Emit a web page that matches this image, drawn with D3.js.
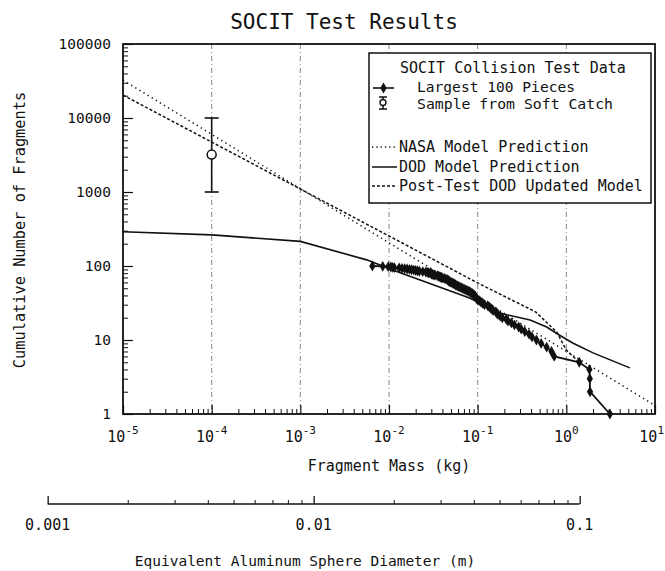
<!DOCTYPE html>
<html>
<head>
<meta charset="utf-8">
<script src="https://cdn.jsdelivr.net/npm/d3@7/dist/d3.min.js"></script>
<style>
  html, body { margin: 0; padding: 0; background: #fff; }
  svg { display: block; }
  text { font-family: "DejaVu Sans Mono", monospace; fill: #111; }
</style>
</head>
<body>
<svg id="chart" width="665" height="571"></svg>
<script>
// ---------- data ----------
const massDecades = [1e-5, 1e-4, 1e-3, 1e-2, 1e-1, 1, 10];
const massExponents = ["-5", "-4", "-3", "-2", "-1", "0", "1"];
const countTicks = [1, 10, 100, 1000, 10000, 100000];
const countLabels = ["1", "10", "100", "1000", "10000", "100000"];
const diamTicks = [0.001, 0.01, 0.1];
const diamLabels = ["0.001", "0.01", "0.1"];

// Largest 100 pieces: mass (kg) of the piece with cumulative rank N
const pieceMass = [
  3.1, 1.85, 1.84, 1.82, 1.4, 0.73, 0.68, 0.60, 0.52, 0.46,
  0.41, 0.38, 0.34, 0.31, 0.29, 0.26, 0.24, 0.22, 0.21, 0.19,
  0.18, 0.17, 0.165, 0.16, 0.15, 0.145, 0.14, 0.135, 0.13, 0.12,
  0.115, 0.112, 0.108, 0.104, 0.10, 0.098, 0.097, 0.095, 0.094, 0.092,
  0.09, 0.088, 0.086, 0.083, 0.081, 0.078, 0.075, 0.072, 0.07, 0.067,
  0.065, 0.063, 0.061, 0.059, 0.057, 0.056, 0.055, 0.053, 0.052, 0.050,
  0.049, 0.048, 0.047, 0.0465, 0.046, 0.045, 0.043, 0.042, 0.040, 0.039,
  0.038, 0.037, 0.036, 0.035, 0.033, 0.032, 0.031, 0.0303, 0.030, 0.029,
  0.028, 0.027, 0.026, 0.024, 0.022, 0.021, 0.020, 0.019, 0.018, 0.017,
  0.016, 0.015, 0.014, 0.013, 0.0115, 0.011, 0.0105, 0.0098, 0.0085, 0.0065
];
const pieceCount = [
  1,2,3,4,5,6,7,8,9,10,11,12,13,14,15,16,17,18,19,20,
  21,22,23,24,25,26,27,28,29,30,31,32,33,34,35,36,37,38,39,40,
  41,42,43,44,45,46,47,48,49,50,51,52,53,54,55,56,57,58,59,60,
  61,62,63,64,65,66,67,68,69,70,71,72,73,74,75,76,77,78,79,80,
  81,82,83,84,85,86,87,88,89,90,91,92,93,94,95,96,97,98,99,100
];

// Sample from soft catch
const softMass = [1e-4];
const softCount = [3200];
const softLow = [1000];
const softHigh = [10000];

// NASA model prediction
const nasaMass = [1e-5, 10];
const nasaCount = [32500, 1.3];

// DOD model prediction
const dodMass = [1e-5, 1e-4, 1e-3, 5.6e-3, 0.011, 0.081, 0.1, 0.18, 0.39, 0.6, 0.83, 1.18, 2.0, 5.2];
const dodCount = [290, 263, 215, 121, 88, 37, 32.6, 23, 18.6, 15, 11.7, 9.1, 6.7, 4.2];

// Post-test DOD updated model
const postMass = [1e-5, 0.1, 0.45, 0.78, 1.0, 1.4];
const postCount = [20400, 59, 24, 12.8, 7.3, 5.0];

// ---------- layout ----------
const svg = d3.select("#chart");
const L = 123, R = 655, T = 44, B = 414;
const x = d3.scaleLog().domain([1e-5, 10]).range([L, R]);
const y = d3.scaleLog().domain([1, 1e5]).range([B, T]);

// aluminium sphere: m = rho*pi/6*d^3
const rhoAl = 2700;
const massOfDiam = d => rhoAl * Math.PI / 6 * d * d * d;
const xd = d3.scaleLog().domain([0.001, 0.1]).range([x(massOfDiam(0.001)), x(massOfDiam(0.1))]);

// title
svg.append("text").attr("x", 344).attr("y", 29).attr("text-anchor", "middle")
  .attr("font-size", 21).text("SOCIT Test Results");

// gridlines (vertical, dashed)
const g = svg.append("g");
g.selectAll("line.grid").data(massDecades.slice(1, -1)).enter().append("line")
  .attr("x1", d => x(d)).attr("x2", d => x(d)).attr("y1", T).attr("y2", B)
  .attr("stroke", "#666").attr("stroke-width", 0.8).attr("stroke-dasharray", "5,3,1,3");

// minor ticks bottom axis
const minorMass = [];
massDecades.slice(0, -1).forEach(d => { for (let k = 2; k <= 9; k++) minorMass.push(d * k); });
svg.append("g").attr("transform", `translate(0,${B})`)
  .call(d3.axisBottom(x).tickValues(minorMass).tickSize(-5).tickFormat(""))
  .call(s => s.select(".domain").remove())
  .call(s => s.selectAll("line").attr("stroke", "#111").attr("stroke-width", 1));
svg.append("g").attr("transform", `translate(0,${B})`)
  .call(d3.axisBottom(x).tickValues(massDecades).tickSize(-9).tickFormat(""))
  .call(s => s.select(".domain").remove())
  .call(s => s.selectAll("line").attr("stroke", "#111").attr("stroke-width", 1.2));

// minor ticks left axis
const minorCount = [];
countTicks.slice(0, -1).forEach(d => { for (let k = 2; k <= 9; k++) minorCount.push(d * k); });
svg.append("g").attr("transform", `translate(${L},0)`)
  .call(d3.axisLeft(y).tickValues(minorCount).tickSize(-5).tickFormat(""))
  .call(s => s.select(".domain").remove())
  .call(s => s.selectAll("line").attr("stroke", "#111").attr("stroke-width", 1));
svg.append("g").attr("transform", `translate(${L},0)`)
  .call(d3.axisLeft(y).tickValues(countTicks).tickSize(-10).tickFormat(""))
  .call(s => s.select(".domain").remove())
  .call(s => s.selectAll("line").attr("stroke", "#111").attr("stroke-width", 1.2));

// y tick labels
svg.selectAll("text.ylab").data(countTicks).enter().append("text")
  .attr("x", 111).attr("y", d => y(d) + 5).attr("text-anchor", "end")
  .attr("font-size", 14.5).text((d, i) => countLabels[i]);

// x tick labels (10^n)
massDecades.forEach((d, i) => {
  const last = i === massDecades.length - 1;
  const t = svg.append("text").attr("x", last ? 664 : x(d)).attr("y", 442)
    .attr("text-anchor", last ? "end" : "middle").attr("font-size", 15);
  t.append("tspan").text("10");
  t.append("tspan").attr("dy", -8).attr("font-size", 11).text(massExponents[i]);
});

// axis titles
svg.append("text").attr("x", 389).attr("y", 471).attr("text-anchor", "middle")
  .attr("font-size", 15).text("Fragment Mass (kg)");
svg.append("text").attr("transform", "translate(25,230) rotate(-90)")
  .attr("text-anchor", "middle").attr("font-size", 15.3).text("Cumulative Number of Fragments");

// ---------- model lines ----------
const line = d3.line().x(d => x(d[0])).y(d => y(d[1]));
const zip = (a, b) => a.map((v, i) => [v, b[i]]);

svg.append("path").datum(zip(nasaMass, nasaCount)).attr("d", line)
  .attr("fill", "none").attr("stroke", "#111").attr("stroke-width", 1.5)
  .attr("stroke-dasharray", "1.3,3.5");
svg.append("path").datum(zip(postMass, postCount)).attr("d", line)
  .attr("fill", "none").attr("stroke", "#111").attr("stroke-width", 1.5)
  .attr("stroke-dasharray", "3,2");
svg.append("path").datum(zip(dodMass, dodCount)).attr("d", line)
  .attr("fill", "none").attr("stroke", "#111").attr("stroke-width", 1.6);

// ---------- test data ----------
const pieces = zip(pieceMass, pieceCount);
svg.append("path").datum(pieces).attr("d", line)
  .attr("fill", "none").attr("stroke", "#111").attr("stroke-width", 1.8);
const diamond = d3.symbol().type(d3.symbolDiamond).size(34);
svg.selectAll("path.pt").data(pieces).enter().append("path")
  .attr("d", diamond).attr("transform", d => `translate(${x(d[0])},${y(d[1])})`)
  .attr("fill", "#111");

// soft catch sample with error bar
softMass.forEach((m, i) => {
  const cx = x(m);
  svg.append("line").attr("x1", cx).attr("x2", cx).attr("y1", y(softHigh[i])).attr("y2", y(softLow[i]))
    .attr("stroke", "#111").attr("stroke-width", 1.6);
  [softHigh[i], softLow[i]].forEach(v => svg.append("line")
    .attr("x1", cx - 7).attr("x2", cx + 7).attr("y1", y(v)).attr("y2", y(v))
    .attr("stroke", "#111").attr("stroke-width", 1.6));
  svg.append("circle").attr("cx", cx).attr("cy", y(softCount[i])).attr("r", 4.5)
    .attr("fill", "#fff").attr("stroke", "#111").attr("stroke-width", 1.5);
});

// ---------- legend ----------
const lg = svg.append("g");
lg.append("rect").attr("x", 369).attr("y", 53).attr("width", 282).attr("height", 150)
  .attr("fill", "#fff").attr("stroke", "#111").attr("stroke-width", 1.5);
lg.append("text").attr("x", 400).attr("y", 73).attr("font-size", 15).text("SOCIT Collision Test Data");
lg.append("line").attr("x1", 373).attr("x2", 394).attr("y1", 88).attr("y2", 88)
  .attr("stroke", "#111").attr("stroke-width", 1.6);
lg.append("path").attr("d", diamond).attr("transform", "translate(383.5,88)").attr("fill", "#111");
lg.append("text").attr("x", 417).attr("y", 92).attr("font-size", 14)
  .attr("textLength", 158).attr("lengthAdjust", "spacingAndGlyphs").text("Largest 100 Pieces");
lg.append("line").attr("x1", 383).attr("x2", 383).attr("y1", 97).attr("y2", 109).attr("stroke", "#111").attr("stroke-width", 1.5);
lg.append("line").attr("x1", 379).attr("x2", 387).attr("y1", 97).attr("y2", 97).attr("stroke", "#111").attr("stroke-width", 1.5);
lg.append("line").attr("x1", 379).attr("x2", 387).attr("y1", 109).attr("y2", 109).attr("stroke", "#111").attr("stroke-width", 1.5);
lg.append("circle").attr("cx", 383).attr("cy", 102.5).attr("r", 3).attr("fill", "#fff").attr("stroke", "#111").attr("stroke-width", 1.4);
lg.append("text").attr("x", 417).attr("y", 109).attr("font-size", 14)
  .attr("textLength", 196).attr("lengthAdjust", "spacingAndGlyphs").text("Sample from Soft Catch");

const legendLines = [
  { label: "NASA Model Prediction", dash: "1.3,3", y: 147 },
  { label: "DOD Model Prediction", dash: null, y: 167 },
  { label: "Post-Test DOD Updated Model", dash: "3,2", y: 186 }
];
legendLines.forEach(e => {
  lg.append("line").attr("x1", 372).attr("x2", 397).attr("y1", e.y).attr("y2", e.y)
    .attr("stroke", "#111").attr("stroke-width", 1.5).attr("stroke-dasharray", e.dash);
  lg.append("text").attr("x", 399).attr("y", e.y + 5).attr("font-size", 15).text(e.label);
});

// plot frame
svg.append("rect").attr("x", L).attr("y", T).attr("width", R - L).attr("height", B - T)
  .attr("fill", "none").attr("stroke", "#111").attr("stroke-width", 1.8);

// ---------- secondary axis ----------
const yd = 504;
const minorDiam = [];
[0.001, 0.01].forEach(d => { for (let k = 2; k <= 9; k++) minorDiam.push(d * k); });
svg.append("g").attr("transform", `translate(0,${yd})`)
  .call(d3.axisBottom(xd).tickValues(minorDiam).tickSize(-4).tickFormat(""))
  .call(s => s.select(".domain").attr("stroke", "#111").attr("stroke-width", 1.4).attr("d", `M${xd.range()[0]},0H${xd.range()[1]}`))
  .call(s => s.selectAll("line").attr("stroke", "#111"));
svg.append("g").attr("transform", `translate(0,${yd})`)
  .call(d3.axisBottom(xd).tickValues(diamTicks).tickSize(-8).tickFormat(""))
  .call(s => s.select(".domain").remove())
  .call(s => s.selectAll("line").attr("stroke", "#111").attr("stroke-width", 1.3));
svg.selectAll("text.dlab").data(diamTicks).enter().append("text")
  .attr("x", d => xd(d)).attr("y", 530).attr("text-anchor", "middle")
  .attr("font-size", 15).text((d, i) => diamLabels[i]);
svg.append("text").attr("x", 305).attr("y", 566).attr("text-anchor", "middle")
  .attr("font-size", 14.5).text("Equivalent Aluminum Sphere Diameter (m)");
</script>
</body>
</html>
